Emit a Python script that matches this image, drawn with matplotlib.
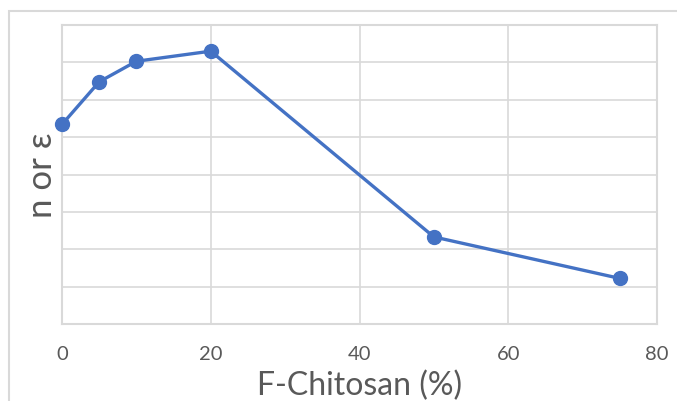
import matplotlib
matplotlib.use("Agg")
import matplotlib.pyplot as plt
from matplotlib.patches import Rectangle

# Données
chitosan = [0, 5, 10, 20, 50, 75]
valeurs = [5.34, 6.48, 7.03, 7.30, 2.33, 1.22]
x_ticks = [0, 20, 40, 60, 80]

plt.rcParams['font.family'] = ['Lato', 'DejaVu Sans']

fig = plt.figure(figsize=(6.77, 4.01), dpi=100)
W, H = 677, 401

# Cadre extérieur gris clair (style Excel)
fig.patches.append(Rectangle((9 / W, -0.1), 1.0, (H - 11) / H + 0.1,
                             transform=fig.transFigure, fill=False,
                             edgecolor='#d9d9d9', linewidth=1.5))

ax = fig.add_axes([62 / W, (H - 324) / H, (657 - 62) / W, (324 - 25) / H])

ax.plot(chitosan, valeurs, color='#4472C4', linewidth=2.4,
        marker='o', markersize=10, zorder=3, clip_on=False)

ax.set_xlim(0, 80)
ax.set_ylim(0, 8)
ax.set_xticks(x_ticks)
ax.set_yticks(range(0, 9))
ax.set_yticklabels([])
ax.tick_params(axis='both', length=0)
ax.tick_params(axis='x', pad=16, labelsize=14.5, labelcolor='#595959')

ax.grid(True, color='#d9d9d9', linewidth=1.2)
ax.set_axisbelow(True)
for side in ['top', 'right', 'left', 'bottom']:
    ax.spines[side].set_color('#d9d9d9')
    ax.spines[side].set_linewidth(1.5)

# Titres des axes placés comme dans l'original
fig.text(360 / W, (H - 395) / H, "F-Chitosan (%)", fontsize=23,
         color='#595959', ha='center', va='baseline')
fig.text(42 / W, (H - 175) / H, "n or ε", fontsize=25, color='#595959',
         rotation=90, ha='center', va='center')

fig.savefig("out.png", dpi=100)
